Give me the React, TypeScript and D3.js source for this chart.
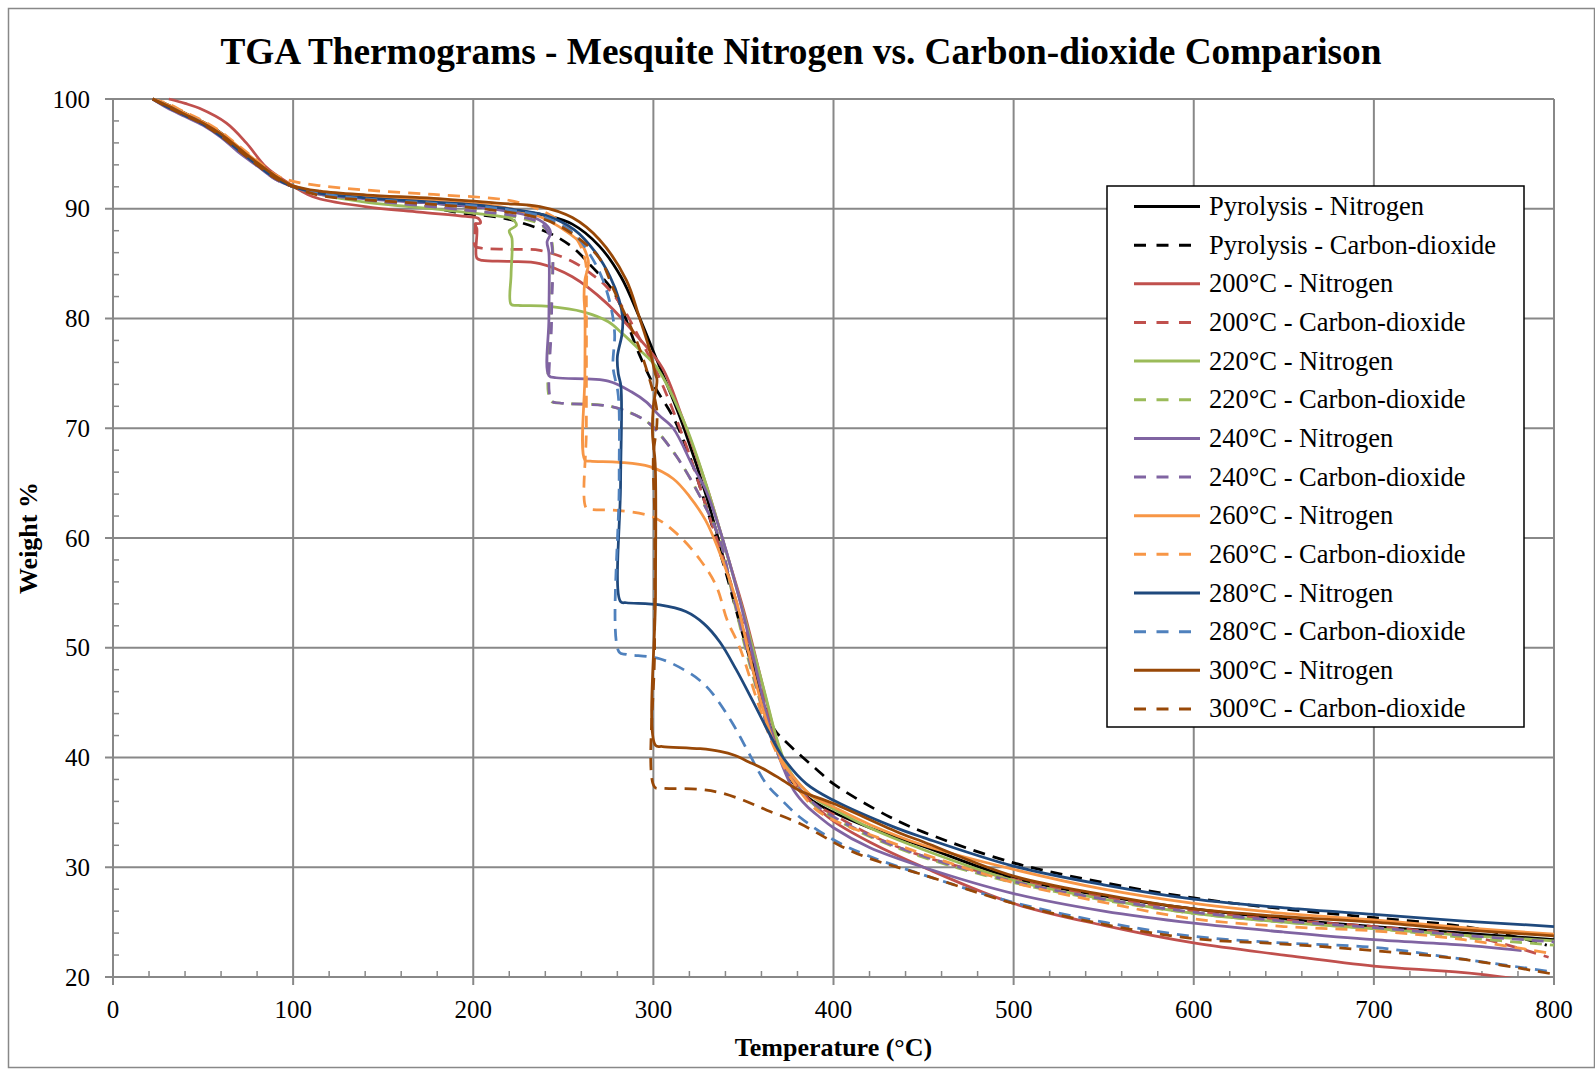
import React from 'react';
import * as d3 from 'd3';

type Pt = [number, number];

// ---------- data (Temperature °C, Weight %) ----------
const pyrolysisN: Pt[] = [[22,100],[30,99.5],[40,98.7],[50,97.9],[60,96.9],[70,95.5],[80,94.2],[90,92.9],[100,92.0],[115,91.4],[140,91.0],[170,90.6],[200,90.2],[220,89.9],[240,89.4],[255,88.6],[270,86.6],[282,83.8],[292,80.2],[300,77.0],[310,73.0],[317,70.0],[330,63.5],[340,57.5],[350,51.5],[357,47.5],[363,43.8],[369,40.6],[374,38.6],[380,37.2],[388,36.1],[400,35.0],[420,33.6],[450,31.9],[500,29.0],[550,27.4],[600,26.2],[650,25.3],[700,24.6],[750,24.0],[800,23.4]];
const pyrolysisCO2: Pt[] = [[22,100],[30,99.5],[40,98.7],[50,97.9],[60,96.9],[70,95.5],[80,94.2],[90,92.9],[100,92.0],[115,91.4],[140,90.9],[170,90.4],[190,89.7],[218,89.1],[242,87.8],[255,86.5],[266,84.7],[278,82.4],[292,76.8],[300,74.0],[311,71.0],[320,67.5],[330,62.5],[340,57.0],[350,51.0],[360,45.5],[367,42.6],[375,41.2],[390,39.0],[400,37.6],[431,34.6],[450,33.2],[500,30.4],[550,28.6],[600,27.2],[650,26.2],[700,25.4],[750,24.6],[780,23.6],[796,22.9]];
const n200: Pt[] = [[31,100],[40,99.6],[48,99.15],[63,97.8],[74,96.0],[85,93.8],[96,92.5],[111,91.1],[140,90.2],[170,89.7],[196,89.3],[203,89.1],[204,88.7],[201,88.6],[202,88.2],[202,85.5],[205,85.3],[220,85.2],[237,85.0],[255,83.8],[274,81.4],[292,78.2],[305,75.5],[316,71.0],[330,64.5],[340,59.0],[350,53.5],[357,49.0],[363,45.0],[369,41.3],[374,39.0],[380,37.4],[388,35.9],[400,34.2],[420,32.3],[450,30.0],[500,26.7],[550,24.7],[600,23.1],[650,22.0],[700,21.0],[750,20.4],[800,19.4]];
const co2200: Pt[] = [[22,100],[30,99.5],[40,98.6],[50,97.9],[60,96.8],[70,95.4],[80,94.1],[90,92.8],[100,92.0],[115,91.3],[140,90.8],[170,90.3],[195,89.8],[201,89.5],[201,88.0],[201,86.6],[205,86.4],[220,86.3],[237,86.2],[255,85.2],[266,84.0],[274,82.9],[283,81.0],[290,78.9],[300,75.8],[310,72.0],[320,67.6],[330,62.5],[340,57.5],[350,52.0],[357,48.0],[363,44.3],[369,40.9],[374,38.8],[380,37.2],[388,35.9],[400,34.8],[420,33.0],[450,31.0],[500,28.9],[550,27.3],[600,26.0],[650,25.2],[700,24.6],[750,23.8],[770,23.1],[797,21.8]];
const n220: Pt[] = [[22,100],[30,99.4],[40,98.6],[50,97.8],[60,96.8],[70,95.5],[80,94.2],[90,92.9],[100,92.0],[115,91.3],[140,90.6],[177,90.0],[200,89.6],[215,89.3],[221,89.1],[224,88.5],[220,88.0],[221.5,87.3],[221,84.0],[221,81.3],[225,81.2],[242,81.1],[261,80.6],[275,79.7],[283,78.6],[292,77.2],[302,75.5],[318,70.2],[330,64.5],[340,59.0],[349,53.8],[356,49.5],[362,45.8],[368,42.0],[373,39.6],[378,38.2],[385,36.9],[392,36.0],[400,35.3],[420,33.6],[450,31.6],[500,28.8],[550,27.1],[600,25.8],[650,25.0],[700,24.4],[750,23.8],[800,23.3]];
const co2220: Pt[] = [[22,100],[30,99.5],[40,98.6],[50,97.8],[60,96.7],[70,95.4],[80,94.1],[90,92.8],[100,92.0],[115,91.3],[140,90.8],[170,90.3],[200,89.8],[225,89.2],[238,88.5],[243,87.5],[243,80.0],[243,72.5],[248,72.3],[276,72.0],[290,71.2],[298,70.4],[313,67.4],[329,62.8],[337,59.8],[343,55.5],[351,50.0],[358,45.8],[364,42.5],[370,40.0],[376,38.2],[383,36.7],[390,35.6],[400,34.5],[420,32.8],[450,30.9],[500,28.6],[550,27.0],[600,25.8],[650,25.0],[700,24.4],[750,23.6],[800,22.9]];
const n240: Pt[] = [[22,100],[30,99.2],[40,98.4],[50,97.6],[60,96.5],[70,95.1],[80,93.9],[90,92.7],[100,92.0],[115,91.3],[140,90.9],[178,90.5],[210,90.0],[232,89.3],[240,88.6],[243,87.8],[241,87.0],[242,86.0],[242,80.0],[242,74.8],[246,74.6],[275,74.3],[288,73.3],[296,72.4],[303,71.2],[311,70.0],[322,66.5],[329,64.4],[337,60.7],[348,54.3],[356,48.8],[362,44.5],[367,41.5],[372,39.1],[378,37.0],[385,35.6],[392,34.6],[400,33.6],[420,31.8],[450,30.0],[500,27.6],[550,26.0],[600,24.9],[650,24.1],[700,23.4],[750,22.9],[782,22.4]];
const co2240: Pt[] = [[22,100],[30,99.3],[40,98.5],[50,97.7],[60,96.6],[70,95.3],[80,94.0],[90,92.7],[100,92.0],[115,91.3],[140,90.8],[170,90.3],[200,89.8],[225,89.3],[238,88.6],[243,87.2],[243.5,80.0],[243.5,72.5],[248,72.3],[276,72.0],[290,71.2],[298,70.4],[313,67.4],[329,62.8],[337,59.8],[344,55.0],[351.5,50.0],[358,46.0],[364,42.4],[370,40.0],[376,38.2],[383,36.8],[390,35.7],[400,34.6],[420,32.9],[450,31.0],[500,28.7],[550,27.1],[600,25.9],[650,25.1],[700,24.5],[750,23.8],[800,23.2]];
const n260: Pt[] = [[22,100],[30,99.5],[40,98.7],[50,97.9],[60,96.9],[70,95.6],[80,94.3],[90,93.0],[100,92.1],[115,91.5],[140,91.1],[180,90.7],[210,90.3],[235,89.4],[252,87.9],[260,86.8],[263,85.8],[264,85.0],[262,83.5],[261.5,82.0],[262,80.5],[262,75.0],[262,67.1],[265,67.0],[281,66.9],[298,66.5],[311,65.4],[320,63.8],[329,61.6],[336,59.0],[346,54.3],[354,48.8],[361,44.3],[367,41.3],[373,39.3],[380,37.8],[388,36.5],[400,35.5],[420,33.9],[450,32.0],[500,29.8],[550,28.0],[600,26.7],[650,25.8],[700,25.2],[750,24.5],[800,23.9]];
const co2260: Pt[] = [[22,100],[30,99.6],[40,98.8],[50,98.0],[60,97.0],[70,95.7],[80,94.4],[90,93.1],[100,92.5],[115,92.1],[141,91.7],[178,91.3],[211,90.95],[222,90.7],[237,89.9],[252,88.4],[259,86.8],[262.5,85.0],[262.8,81.7],[262.8,70.0],[262.8,62.7],[266,62.6],[281,62.5],[300,61.9],[313,60.4],[326,58.0],[335,55.6],[341,52.5],[348,50.0],[358,45.0],[366,41.3],[373,39.0],[381,37.0],[390,35.3],[400,34.3],[433,32.2],[450,31.2],[500,28.6],[550,26.8],[600,25.3],[650,24.6],[700,24.2],[750,23.4],[800,22.1]];
const n280: Pt[] = [[22,100],[30,99.3],[40,98.5],[50,97.7],[60,96.6],[70,95.3],[80,94.0],[90,92.8],[100,92.0],[115,91.4],[140,91.0],[178,90.6],[210,90.2],[240,89.4],[256,88.1],[268,86.0],[276,83.8],[281,81.7],[283,80.0],[282.5,78.5],[280,76.5],[280.5,75.0],[282,73.8],[281.8,65.0],[281.8,54.2],[285,54.1],[303.5,53.9],[318,53.3],[328,52.2],[337,50.5],[346,48.0],[355,45.2],[364,42.3],[372,40.0],[385,37.6],[400,36.1],[433,33.7],[450,32.7],[500,30.1],[550,28.4],[600,27.1],[658,26.2],[700,25.7],[750,25.1],[800,24.6]];
const co2280: Pt[] = [[22,100],[30,99.4],[40,98.6],[50,97.8],[60,96.7],[70,95.4],[80,94.1],[90,92.9],[100,92.0],[115,91.4],[140,90.9],[178,90.5],[210,90.1],[240,89.2],[256,87.7],[266,85.5],[272,83.5],[276.5,81.0],[278.5,78.6],[277.6,75.6],[280.5,73.0],[281,65.0],[281,49.6],[285,49.4],[303.5,49.0],[318,47.9],[326,47.0],[333,45.8],[344,43.1],[353,40.4],[362.7,37.6],[372,36.0],[381,34.6],[400,32.5],[420,31.0],[450,29.3],[500,26.8],[550,25.0],[600,23.7],[650,23.1],[700,22.7],[742,21.8],[800,20.45]];
const n300: Pt[] = [[22,100],[30,99.4],[40,98.6],[50,97.8],[60,96.8],[70,95.5],[80,94.2],[90,93.0],[100,92.1],[115,91.6],[141,91.25],[178,90.95],[215,90.5],[237,90.2],[255,89.2],[270,87.2],[285,83.5],[292,80.2],[298,77.1],[301,75.0],[302,74.4],[300,72.0],[299.5,69.5],[301,66.8],[301.2,55.0],[301.2,41.1],[305,41.0],[326,40.8],[337,40.55],[345,40.2],[353,39.6],[363,38.8],[372,37.9],[381,37.0],[400,35.8],[437,33.1],[450,32.3],[500,29.2],[550,27.5],[600,26.2],[650,25.5],[700,25.0],[750,24.3],[800,23.75]];
const co2300: Pt[] = [[22,100],[30,99.3],[40,98.5],[50,97.7],[60,96.6],[70,95.3],[80,94.0],[90,92.8],[100,92.0],[115,91.2],[141,90.8],[178,90.4],[210,89.9],[240,89.0],[256,87.6],[270,85.5],[278,82.6],[292,77.4],[301.6,72.0],[302,70.5],[300,67.5],[300.7,62.0],[300.7,50.0],[300.7,37.3],[305,37.2],[325,37.1],[337,36.8],[350,36.1],[363,35.2],[381,34.0],[405,31.85],[420,30.8],[450,29.3],[500,26.7],[550,24.8],[600,23.5],[650,23.0],[700,22.4],[750,21.6],[800,20.25]];

const seriesNames = [
  'Pyrolysis - Nitrogen', 'Pyrolysis - Carbon-dioxide',
  '200°C - Nitrogen', '200°C - Carbon-dioxide',
  '220°C - Nitrogen', '220°C - Carbon-dioxide',
  '240°C - Nitrogen', '240°C - Carbon-dioxide',
  '260°C - Nitrogen', '260°C - Carbon-dioxide',
  '280°C - Nitrogen', '280°C - Carbon-dioxide',
  '300°C - Nitrogen', '300°C - Carbon-dioxide',
];
const seriesData: Pt[][] = [pyrolysisN, pyrolysisCO2, n200, co2200, n220, co2220, n240, co2240, n260, co2260, n280, co2280, n300, co2300];

const xTicks = [0, 100, 200, 300, 400, 500, 600, 700, 800];
const yTicks = [20, 30, 40, 50, 60, 70, 80, 90, 100];

const titleText = 'TGA Thermograms - Mesquite Nitrogen vs. Carbon-dioxide Comparison';
const xTitle = 'Temperature (°C)';
const yTitle = 'Weight %';

// ---------- styles ----------
const seriesColors = ['#000000', '#000000', '#C0504D', '#C0504D', '#9BBB59', '#9BBB59', '#8064A2', '#8064A2', '#F79646', '#F79646', '#1F497D', '#4F81BD', '#984807', '#984807'];
const seriesDashed = [false, true, false, true, false, true, false, true, false, true, false, true, false, true];

const FONT = '"Liberation Serif", "Times New Roman", serif';
const GRID = '#888888';

export default function App() {
  const W = 1595, H = 1070;
  const left = 113, right = 1554, top = 99, bottom = 977;
  const x = d3.scaleLinear().domain([0, 800]).range([left, right]);
  const y = d3.scaleLinear().domain([20, 100]).range([bottom, top]);
  const line = d3.line<Pt>().x(d => x(d[0])).y(d => y(d[1])).curve(d3.curveCatmullRom.alpha(0.5));

  const xMinor = d3.range(0, 800, 20).filter(v => v % 100 !== 0);
  const yMinor = d3.range(20, 100, 2).filter(v => v % 10 !== 0);

  const legX = 1107, legY = 186, legW = 417, legH = 541;
  const rowY0 = 206.5, rowStep = 38.65;

  return (
    <svg width={W} height={H} style={{ position: 'absolute', left: 0, top: 0, background: '#fff' }} fontFamily={FONT}>
      <rect x={0} y={0} width={W} height={H} fill="#fff" />
      <rect x={8.5} y={8.5} width={1586} height={1059} fill="none" stroke={GRID} strokeWidth={1.5} />
      <defs>
        <clipPath id="plotClip">
          <rect x={left} y={top - 4} width={right - left + 4} height={bottom - top + 4} />
        </clipPath>
      </defs>
      {/* title */}
      <text x={801} y={64} textAnchor="middle" fontSize={37.3} fontWeight="bold">{titleText}</text>
      {/* gridlines */}
      {xTicks.slice(1).map(t => (
        <line key={'gx' + t} x1={x(t)} x2={x(t)} y1={top} y2={bottom + 8} stroke={GRID} strokeWidth={2} />
      ))}
      {yTicks.slice(1).map(t => (
        <line key={'gy' + t} x1={left - 8} x2={right} y1={y(t)} y2={y(t)} stroke={GRID} strokeWidth={2} />
      ))}
      {/* axes */}
      <line x1={left} x2={left} y1={top} y2={bottom + 8} stroke={GRID} strokeWidth={2} />
      <line x1={left - 8} x2={right} y1={bottom} y2={bottom} stroke={GRID} strokeWidth={2} />
      {xMinor.map(t => (
        <line key={'mx' + t} x1={x(t)} x2={x(t)} y1={bottom} y2={bottom - 6} stroke={GRID} strokeWidth={1.5} />
      ))}
      {yMinor.map(t => (
        <line key={'my' + t} x1={left} x2={left + 6} y1={y(t)} y2={y(t)} stroke={GRID} strokeWidth={1.5} />
      ))}
      {/* tick labels */}
      {xTicks.map(t => (
        <text key={'lx' + t} x={x(t)} y={1018} textAnchor="middle" fontSize={25}>{t}</text>
      ))}
      {yTicks.map(t => (
        <text key={'ly' + t} x={90} y={y(t) + 8.5} textAnchor="end" fontSize={25}>{t}</text>
      ))}
      {/* axis titles */}
      <text x={(left + right) / 2} y={1056} textAnchor="middle" fontSize={26} fontWeight="bold">{xTitle}</text>
      <text transform={`translate(37, ${(top + bottom) / 2}) rotate(-90)`} textAnchor="middle" fontSize={26} fontWeight="bold">{yTitle}</text>
      {/* series */}
      <g clipPath="url(#plotClip)">
        {seriesData.map((d, i) => (
          <path key={'s' + i} d={line(d) || ''} fill="none" stroke={seriesColors[i]} strokeWidth={2.75}
            strokeDasharray={seriesDashed[i] ? '12,8' : undefined} strokeLinejoin="round" />
        ))}
      </g>
      {/* legend */}
      <rect x={legX} y={legY} width={legW} height={legH} fill="#fff" stroke="#000" strokeWidth={1.5} />
      {seriesNames.map((n, i) => {
        const ry = rowY0 + i * rowStep;
        return (
          <g key={'lg' + i}>
            <line x1={1134} x2={seriesDashed[i] ? 1191 : 1200} y1={ry} y2={ry} stroke={seriesColors[i]} strokeWidth={3}
              strokeDasharray={seriesDashed[i] ? '12,10.5' : undefined} />
            <text x={1209} y={ry + 8.5} fontSize={26.5}>{n}</text>
          </g>
        );
      })}
    </svg>
  );
}
